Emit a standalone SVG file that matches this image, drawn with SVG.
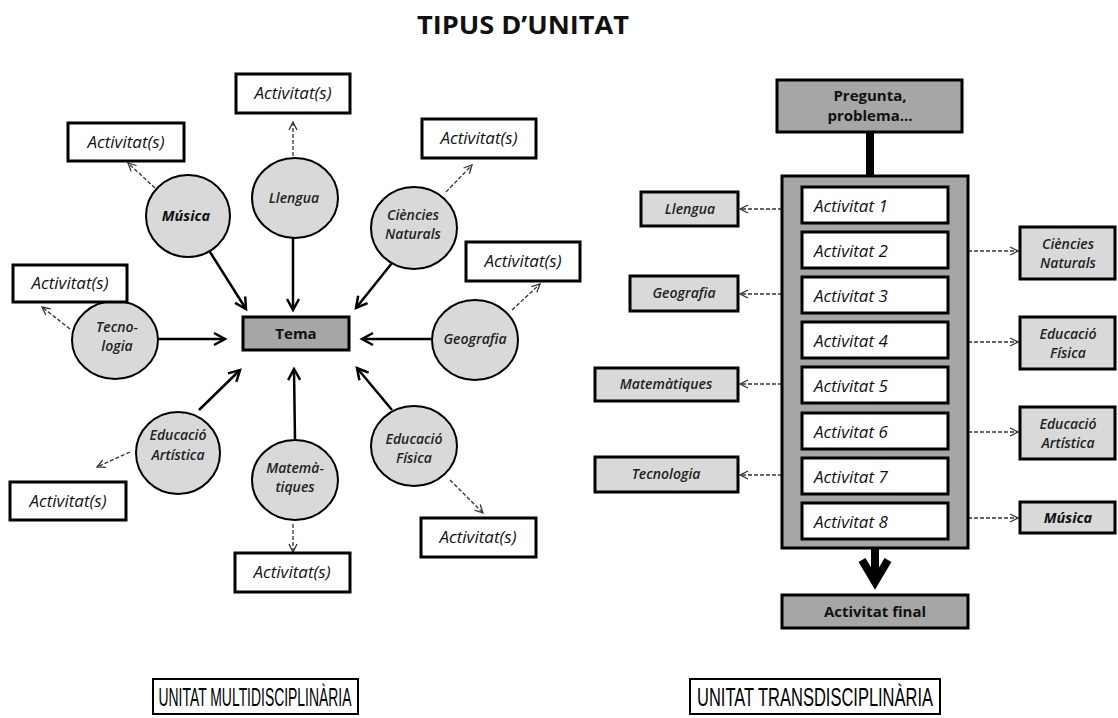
<svg xmlns="http://www.w3.org/2000/svg" width="1118" height="718" viewBox="0 0 1118 718">
<defs>
<style>
.act{fill:#fff;stroke:#000;stroke-width:3}
.circ{fill:#d9d9d9;stroke:#000;stroke-width:2}
.dark{fill:#a6a6a6;stroke:#000;stroke-width:3}
.light{fill:#d9d9d9;stroke:#000;stroke-width:3}
.lab{fill:#fff;stroke:#000;stroke-width:2}
.ta{font-family:"Open Sans","Liberation Sans",sans-serif;font-style:italic;font-size:17px;fill:#111;text-anchor:middle}
.tn{font-family:"Open Sans","Liberation Sans",sans-serif;font-style:italic;font-size:17px;fill:#111}
.ts{font-family:"Open Sans","Liberation Sans",sans-serif;font-style:italic;font-weight:600;font-size:14px;fill:#222;text-anchor:middle}
.tsb{font-family:"Open Sans","Liberation Sans",sans-serif;font-style:italic;font-weight:700;font-size:14.5px;fill:#111;text-anchor:middle}
.tb{font-family:"Open Sans","Liberation Sans",sans-serif;font-weight:700;font-size:15px;fill:#111;text-anchor:middle}
.tl{font-family:"Liberation Sans",Arial,sans-serif;font-size:25px;fill:#000;text-anchor:middle}
.solid{stroke:#000;stroke-width:2.5;fill:none;marker-end:url(#ah)}
.dash{stroke:#333;stroke-width:1.3;stroke-dasharray:4 2;fill:none;marker-end:url(#dh)}
</style>
<marker id="ah" markerUnits="userSpaceOnUse" markerWidth="16" markerHeight="16" refX="12" refY="7" orient="auto" viewBox="0 0 16 14">
<path d="M1,1 L12,7 L1,13" fill="none" stroke="#000" stroke-width="2.5"/>
</marker>
<marker id="dh" markerUnits="userSpaceOnUse" markerWidth="12" markerHeight="12" refX="9" refY="5" orient="auto" viewBox="0 0 12 10">
<path d="M1,1 L9,5 L1,9" fill="none" stroke="#333" stroke-width="1.3"/>
</marker>
</defs>
<rect width="1118" height="718" fill="#fff"/>
<text x="523" y="34" font-family="'Open Sans','Liberation Sans',sans-serif" font-weight="700" font-size="25" fill="#111" text-anchor="middle" textLength="212" lengthAdjust="spacingAndGlyphs">TIPUS D’UNITAT</text>

<g id="connectors">
<path class="solid" d="M210,252 L246,309"/>
<path class="solid" d="M293,238 L293,310"/>
<path class="solid" d="M392,263 L356,308"/>
<path class="solid" d="M432,339 L362,339"/>
<path class="solid" d="M158,339 L225,339"/>
<path class="solid" d="M199,410 L240,370"/>
<path class="solid" d="M295,440 L294,369"/>
<path class="solid" d="M392,410 L357,368"/>
<path class="dash" d="M293,156 L293,122"/>
<path class="dash" d="M155,188 L128,163"/>
<path class="dash" d="M446,192 L472,165"/>
<path class="dash" d="M512,310 L540,284"/>
<path class="dash" d="M70,329 L42,307"/>
<path class="dash" d="M130,452 L97,467"/>
<path class="dash" d="M293,524 L293,552"/>
<path class="dash" d="M450,480 L483,513"/>
<path d="M870,132 L870,176" stroke="#000" stroke-width="8" fill="none"/>
<path d="M875,548 L875,578" stroke="#000" stroke-width="8" fill="none"/>
<path d="M862,560 L875,582 L888,560" stroke="#000" stroke-width="8" fill="none" stroke-linejoin="miter"/>
<path class="dash" d="M782,209 L740,209"/>
<path class="dash" d="M782,294 L740,294"/>
<path class="dash" d="M782,384 L740,384"/>
<path class="dash" d="M782,475 L740,475"/>
<path class="dash" d="M968,251 L1018,251"/>
<path class="dash" d="M968,342 L1018,342"/>
<path class="dash" d="M968,432 L1018,432"/>
<path class="dash" d="M968,518 L1018,518"/>
</g>

<g id="tema"><rect class="dark" x="243" y="317" width="106" height="33"/><text class="tb" x="296" y="339">Tema</text></g>

<g id="c-musica"><ellipse class="circ" cx="188" cy="216" rx="42" ry="41"/><text class="tsb" x="186" y="221">Música</text></g>
<g id="c-llengua"><ellipse class="circ" cx="295" cy="198" rx="43" ry="40"/><text class="ts" x="294" y="203">Llengua</text></g>
<g id="c-ciencies"><ellipse class="circ" cx="414" cy="228" rx="43" ry="41"/><text class="ts" x="413" y="220">Ciències</text><text class="ts" x="413" y="239">Naturals</text></g>
<g id="c-geografia"><ellipse class="circ" cx="475" cy="340" rx="43" ry="40"/><text class="ts" x="475" y="344">Geografia</text></g>
<g id="c-tecnologia"><ellipse class="circ" cx="115" cy="340" rx="43" ry="39"/><text class="ts" x="117" y="332">Tecno-</text><text class="ts" x="117" y="351">logia</text></g>
<g id="c-artistica"><ellipse class="circ" cx="178" cy="453" rx="42" ry="41"/><text class="ts" x="178" y="440">Educació</text><text class="ts" x="178" y="460">Artística</text></g>
<g id="c-matematiques"><ellipse class="circ" cx="295" cy="480" rx="43" ry="40"/><text class="ts" x="295" y="473">Matemà-</text><text class="ts" x="295" y="492">tiques</text></g>
<g id="c-fisica"><ellipse class="circ" cx="414" cy="446" rx="43" ry="40"/><text class="ts" x="414" y="444">Educació</text><text class="ts" x="414" y="463">Física</text></g>

<g id="a-llengua"><rect class="act" x="236" y="74" width="114" height="39"/><text class="ta" x="293" y="99">Activitat(s)</text></g>
<g id="a-musica"><rect class="act" x="68" y="123" width="116" height="38"/><text class="ta" x="126" y="148">Activitat(s)</text></g>
<g id="a-ciencies"><rect class="act" x="422" y="119" width="114" height="39"/><text class="ta" x="479" y="144">Activitat(s)</text></g>
<g id="a-geografia"><rect class="act" x="466" y="242" width="114" height="39"/><text class="ta" x="523" y="267">Activitat(s)</text></g>
<g id="a-tecnologia"><rect class="act" x="13" y="265" width="114" height="37"/><text class="ta" x="70" y="289">Activitat(s)</text></g>
<g id="a-artistica"><rect class="act" x="10" y="482" width="116" height="38"/><text class="ta" x="68" y="507">Activitat(s)</text></g>
<g id="a-matematiques"><rect class="act" x="235" y="553" width="115" height="39"/><text class="ta" x="292" y="578">Activitat(s)</text></g>
<g id="a-fisica"><rect class="act" x="421" y="518" width="115" height="39"/><text class="ta" x="478" y="543">Activitat(s)</text></g>

<g id="pregunta"><rect class="dark" x="777" y="80" width="185" height="52"/><text class="tb" x="870" y="101">Pregunta,</text><text class="tb" x="870" y="121">problema…</text></g>
<g id="contenidor"><rect class="dark" x="782" y="176" width="186" height="372"/></g>
<g id="act1"><rect class="act" x="802" y="187" width="146" height="36"/><text class="tn" x="814" y="212">Activitat 1</text></g>
<g id="act2"><rect class="act" x="802" y="232" width="146" height="36"/><text class="tn" x="814" y="257">Activitat 2</text></g>
<g id="act3"><rect class="act" x="802" y="277" width="146" height="36"/><text class="tn" x="814" y="302">Activitat 3</text></g>
<g id="act4"><rect class="act" x="802" y="322" width="146" height="36"/><text class="tn" x="814" y="347">Activitat 4</text></g>
<g id="act5"><rect class="act" x="802" y="367" width="146" height="36"/><text class="tn" x="814" y="392">Activitat 5</text></g>
<g id="act6"><rect class="act" x="802" y="413" width="146" height="36"/><text class="tn" x="814" y="438">Activitat 6</text></g>
<g id="act7"><rect class="act" x="802" y="458" width="146" height="36"/><text class="tn" x="814" y="483">Activitat 7</text></g>
<g id="act8"><rect class="act" x="802" y="503" width="146" height="36"/><text class="tn" x="814" y="528">Activitat 8</text></g>
<g id="final"><rect class="dark" x="782" y="595" width="186" height="33"/><text class="tb" x="875" y="617">Activitat final</text></g>

<g id="s-llengua"><rect class="light" x="641" y="192" width="97" height="34"/><text class="ts" x="690" y="214">Llengua</text></g>
<g id="s-geografia"><rect class="light" x="630" y="276" width="108" height="35"/><text class="ts" x="684" y="298">Geografia</text></g>
<g id="s-matematiques"><rect class="light" x="595" y="368" width="143" height="33"/><text class="ts" x="666" y="389">Matemàtiques</text></g>
<g id="s-tecnologia"><rect class="light" x="595" y="457" width="143" height="35"/><text class="ts" x="666" y="479">Tecnologia</text></g>
<g id="s-ciencies"><rect class="light" x="1020" y="227" width="95" height="52"/><text class="ts" x="1068" y="249">Ciències</text><text class="ts" x="1068" y="268">Naturals</text></g>
<g id="s-fisica"><rect class="light" x="1020" y="317" width="95" height="52"/><text class="ts" x="1068" y="339">Educació</text><text class="ts" x="1068" y="358">Física</text></g>
<g id="s-artistica"><rect class="light" x="1020" y="407" width="95" height="52"/><text class="ts" x="1068" y="429">Educació</text><text class="ts" x="1068" y="448">Artística</text></g>
<g id="s-musica"><rect class="light" x="1020" y="502" width="95" height="31"/><text class="tsb" x="1068" y="523">Música</text></g>

<g id="l-multi"><rect class="lab" x="153" y="679" width="205" height="35"/><text class="tl" x="255" y="706" textLength="193" lengthAdjust="spacingAndGlyphs">UNITAT MULTIDISCIPLINÀRIA</text></g>
<g id="l-trans"><rect class="lab" x="690" y="679" width="250" height="35"/><text class="tl" x="815" y="706" textLength="236" lengthAdjust="spacingAndGlyphs">UNITAT TRANSDISCIPLINÀRIA</text></g>
</svg>
